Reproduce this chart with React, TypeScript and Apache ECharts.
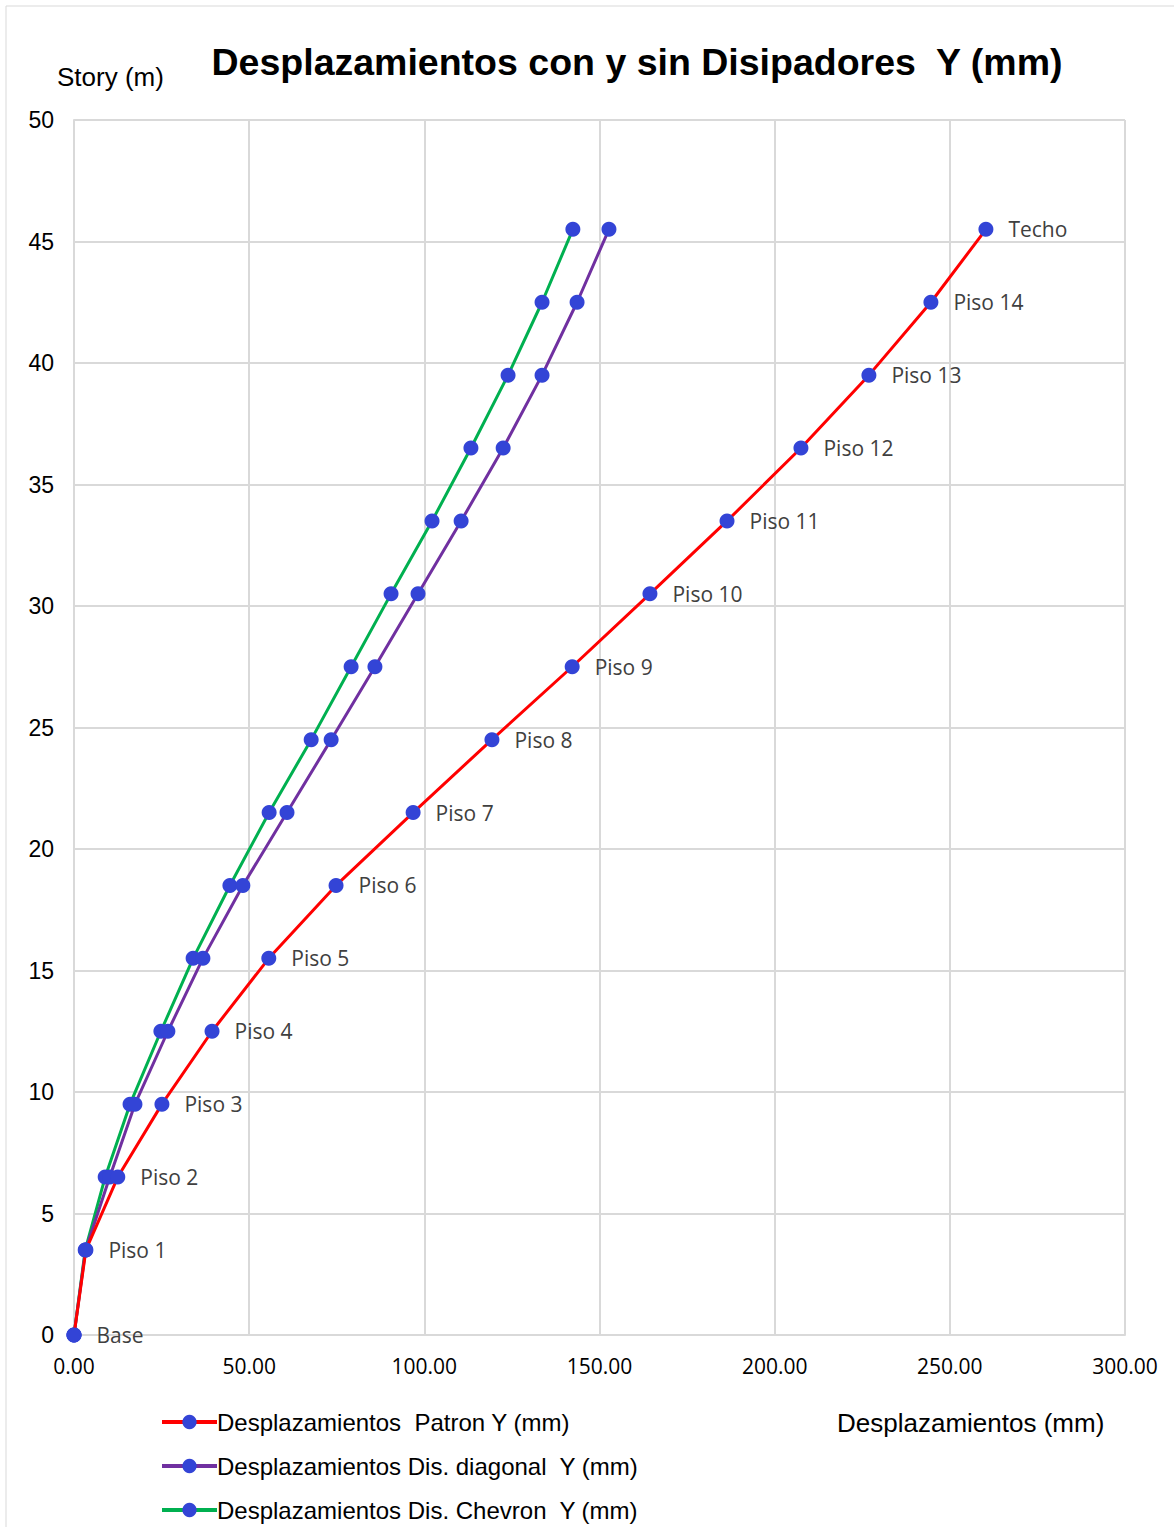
import React, { useEffect, useRef } from "react";
import * as echarts from "echarts";

const storyHeights = [0, 3.5, 6.5, 9.5, 12.5, 15.5, 18.5, 21.5, 24.5, 27.5, 30.5, 33.5, 36.5, 39.5, 42.5, 45.5];
const storyNames = ["Base", "Piso 1", "Piso 2", "Piso 3", "Piso 4", "Piso 5", "Piso 6", "Piso 7", "Piso 8", "Piso 9", "Piso 10", "Piso 11", "Piso 12", "Piso 13", "Piso 14", "Techo"];
const patronY = [0, 3.4, 12.5, 25.1, 39.4, 55.6, 74.8, 96.8, 119.3, 142.2, 164.4, 186.4, 207.5, 226.9, 244.6, 260.3];
const diagonalY = [0, 3.3, 10.2, 17.4, 26.8, 36.8, 48.2, 60.8, 73.4, 85.9, 98.2, 110.5, 122.5, 133.6, 143.6, 152.7];
const chevronY = [0, 3.2, 8.9, 16.0, 24.8, 34.0, 44.5, 55.7, 67.7, 79.1, 90.5, 102.2, 113.3, 123.9, 133.6, 142.4];
const seriesNames = [
  "Desplazamientos  Patron Y (mm)",
  "Desplazamientos Dis. diagonal  Y (mm)",
  "Desplazamientos Dis. Chevron  Y (mm)",
];
const lineColors = ["#FF0000", "#7030A0", "#00B050"];
const titleText = "Desplazamientos con y sin Disipadores  Y (mm)";

export default function App() {
  const ref = useRef<HTMLDivElement>(null);
  useEffect(() => {
    document.body.style.margin = "0";
    const chart = echarts.init(ref.current!, null, { renderer: "svg" });
    const values = [patronY, diagonalY, chevronY];
    const markerColor = "#3344D6";
    const series: any[] = values.map((vals, i) => ({
      name: seriesNames[i],
      type: "line",
      data: vals.map((v, k) => [v, storyHeights[k]]),
      symbol: "circle",
      symbolSize: 15,
      lineStyle: { color: lineColors[i], width: 3 },
      itemStyle: { color: markerColor },
      color: lineColors[i],
      z: 3 - i,
      label:
        i === 0
          ? {
              show: true,
              position: "right",
              distance: 15,
              formatter: (p: any) => storyNames[p.dataIndex],
              fontFamily: "Open Sans",
              fontSize: 21,
              color: "#404040",
            }
          : { show: false },
    }));
    chart.setOption({
      animation: false,
      backgroundColor: "#ffffff",
      title: {
        text: titleText,
        left: 632,
        top: 38,
        textAlign: "center",
        textStyle: { fontFamily: "Liberation Sans", fontWeight: "bold", fontSize: 37.5, color: "#000" },
      },
      graphic: [
        {
          type: "rect",
          shape: { x: 6, y: 6, width: 1200, height: 1600 },
          style: { fill: "none", stroke: "#d9d9d9", lineWidth: 1 },
          silent: true,
        },
        {
          type: "text",
          left: 57,
          top: 64,
          style: { text: "Story (m)", font: "26px 'Liberation Sans'", fill: "#000" },
        },
        {
          type: "text",
          left: 837,
          top: 1410,
          style: { text: "Desplazamientos (mm)", font: "26px 'Liberation Sans'", fill: "#000" },
        },
      ],
      legend: {
        orient: "vertical",
        left: 160,
        top: 1410,
        height: 117,
        padding: 0,
        itemWidth: 55,
        itemHeight: 18,
        itemGap: 20,
        data: seriesNames.map((n, i) => ({
          name: n,
          itemStyle: { color: markerColor },
          lineStyle: { color: lineColors[i], width: 4 },
        })),
        textStyle: { fontFamily: "Liberation Sans", fontSize: 24, color: "#000", padding: [0, 0, 0, -5] },
      },
      grid: { left: 74, right: 49, top: 120, bottom: 192 },
      xAxis: {
        type: "value",
        min: 0,
        max: 300,
        interval: 50,
        axisLine: { show: true, lineStyle: { color: "#d9d9d9", width: 2 } },
        axisTick: { show: false },
        splitLine: { show: true, lineStyle: { color: "#d9d9d9", width: 2 } },
        axisLabel: {
          formatter: (v: number) => v.toFixed(2),
          fontFamily: "Open Sans",
          fontSize: 21,
          color: "#000",
          margin: 20,
        },
      },
      yAxis: {
        type: "value",
        min: 0,
        max: 50,
        interval: 5,
        axisLine: { show: true, lineStyle: { color: "#d9d9d9", width: 2 } },
        axisTick: { show: false },
        splitLine: { show: true, lineStyle: { color: "#d9d9d9", width: 2 } },
        axisLabel: { fontFamily: "Liberation Sans", fontSize: 23, color: "#000", margin: 20 },
      },
      series,
    });
    return () => chart.dispose();
  }, []);
  return <div ref={ref} style={{ width: 1174, height: 1527 }} />;
}
